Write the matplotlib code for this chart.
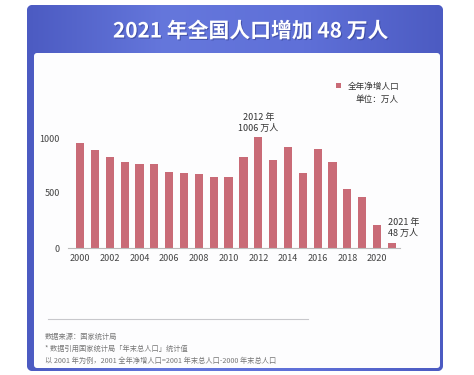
import matplotlib.pyplot as plt
import matplotlib.patches as mpatches
import matplotlib.patheffects as pe
from matplotlib.colors import LinearSegmentedColormap
import numpy as np

plt.rcParams['font.family'] = ['Noto Sans CJK SC', 'DejaVu Sans']

# Data
years = list(range(2000, 2022))
net_increase = [958, 889, 828, 780, 765, 762, 695, 686, 674, 646, 646, 828,
                1006, 801, 919, 686, 904, 780, 534, 462, 207, 48]
xtick_years = list(range(2000, 2021, 2))
ytick_values = [0, 500, 1000]

title = '2021 年全国人口增加 48 万人'
legend_label = '全年净增人口'
unit_label = '单位：万人'
notes = ['数据来源：国家统计局',
         '* 数据引用国家统计局「年末总人口」统计值',
         '以 2001 年为例，2001 全年净增人口=2001 年末总人口-2000 年末总人口']

bar_color = '#C96B77'
W, H = 474, 375

fig = plt.figure(figsize=(W / 100, H / 100), dpi=100)
fig.patch.set_facecolor('white')

# background layer in pixel coordinates
bg = fig.add_axes([0, 0, 1, 1], zorder=-1)
bg.set_xlim(0, W)
bg.set_ylim(H, 0)
bg.axis('off')

card = mpatches.FancyBboxPatch((27, 5), 416, 366,
                               boxstyle='round,pad=0,rounding_size=6',
                               facecolor='#5767D0', edgecolor='none')
bg.add_patch(card)
cmap = LinearSegmentedColormap.from_list('hdr', ['#4C5BC2', '#6577DC', '#5F70D8', '#4C5BC2'])
grad = np.linspace(0, 1, 256).reshape(1, -1)
im = bg.imshow(grad, cmap=cmap, extent=(27, 443, 371, 5), aspect='auto', zorder=1)
im.set_clip_path(card)

inner = mpatches.FancyBboxPatch((34, 53), 406, 315,
                                boxstyle='round,pad=0,rounding_size=3',
                                facecolor='#FDFDFE', edgecolor='none', zorder=2)
bg.add_patch(inner)

bg.text(251, 31, title, ha='center', va='center', color='white', fontsize=15,
        fontweight='bold', zorder=3,
        path_effects=[pe.withSimplePatchShadow(offset=(0.8, -0.8), shadow_rgbFace='#2A3580', alpha=0.5)])

# separator and notes
bg.plot([48, 308], [319, 319], color='#C8C8CC', linewidth=0.8, zorder=3)
for i, line in enumerate(notes):
    bg.text(45, 337 + i * 12, line, ha='left', va='center', fontsize=5.2,
            color='#777777', zorder=3)

# main chart
ax = fig.add_axes([68 / W, 1 - 248 / H, 332 / W, 126.5 / H])
ax.set_facecolor('none')
bars = ax.bar(years, net_increase, width=0.55, color=bar_color, zorder=2)

ax.set_xlim(1999.19, 2021.54)
ax.set_ylim(0, 1150)
ax.set_xticks(xtick_years)
ax.set_xticklabels([str(y) for y in xtick_years])
ax.set_yticks(ytick_values)
ax.tick_params(length=0, labelsize=6.5, colors='#444444')
ax.tick_params(axis='x', pad=4)
ax.tick_params(axis='y', pad=6)
for s in ['top', 'right', 'left']:
    ax.spines[s].set_visible(False)
ax.spines['bottom'].set_color('#BBBBBB')
ax.spines['bottom'].set_linewidth(0.8)

# annotations
ax.text(2012, 1006 + 40, '2012 年\n1006 万人', ha='center', va='bottom',
        fontsize=6.5, color='#333333', linespacing=1.3)
ax.text(2020.7, 48 + 40, '2021 年\n48 万人', ha='left', va='bottom',
        fontsize=6.5, color='#333333', linespacing=1.3)

# legend
leg = ax.legend([bars[0]], [legend_label], loc='center right',
                bbox_to_anchor=(400 / W, 1 - 86 / H), bbox_transform=fig.transFigure,
                frameon=False, fontsize=6.2, handlelength=0.55, handleheight=0.55,
                handletextpad=0.9, borderpad=0, borderaxespad=0)
for t in leg.get_texts():
    t.set_color('#333333')
fig.text(399 / W, 1 - 99 / H, unit_label, ha='right', va='center', fontsize=6.2,
         color='#333333')

plt.savefig('out.png', dpi=100, facecolor='white')
